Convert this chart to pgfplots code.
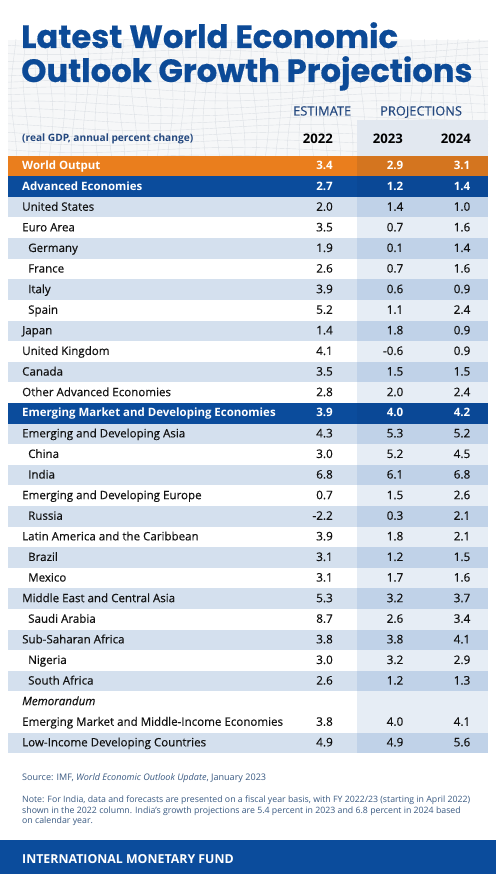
\documentclass[border=0pt]{standalone}
\usepackage{fontspec}
\setmainfont{Open Sans}
\newfontfamily\medfont{Open Sans}[FakeBold=0.35]
\newfontfamily\titlefont{Poppins}[BoldFeatures={FakeBold=0.5}]
\usepackage{pgfplots}
\usepackage{pgfplotstable}
\pgfplotsset{compat=1.18}

\definecolor{titleblue}{HTML}{0C4A97}
\definecolor{imfblue}{HTML}{0B4C9C}
\definecolor{imfblueR}{HTML}{0A4896}
\definecolor{orangeL}{HTML}{EA7E1D}
\definecolor{orangeR}{HTML}{D4751F}
\definecolor{shadeL}{HTML}{D4E0EE}
\definecolor{shadeR}{HTML}{C0D2E8}
\definecolor{projcol}{HTML}{E6EDF5}
\definecolor{projhead}{HTML}{E2E8F0}
\definecolor{meshbg}{HTML}{F6F7F8}
\definecolor{meshline}{HTML}{DCE0E5}
\definecolor{headtxt}{HTML}{24487F}
\definecolor{foottxt}{HTML}{3A5A82}
\definecolor{bodytxt}{HTML}{121212}

\pgfdeclareplotmark{bandL}{\pgfpathrectangle{\pgfpoint{-174.5bp}{-10.3bp}}{\pgfpoint{349bp}{20.6bp}}\pgfusepathqfill}
\pgfdeclareplotmark{bandR}{\pgfpathrectangle{\pgfpoint{-65.5bp}{-10.3bp}}{\pgfpoint{131bp}{20.6bp}}\pgfusepathqfill}

% rows: r = row number (1 = World Output), values for 2022, 2023, 2024
\pgfplotstableread[col sep=comma]{
r,name,a,b,c
1,World Output,3.4,2.9,3.1
2,Advanced Economies,2.7,1.2,1.4
13,Emerging Market and Developing Economies,3.9,4.0,4.2
}\headrows
\pgfplotstableread[col sep=comma]{
r,name,a,b,c
3,United States,2.0,1.4,1.0
4,Euro Area,3.5,0.7,1.6
9,Japan,1.4,1.8,0.9
10,United Kingdom,4.1,-0.6,0.9
11,Canada,3.5,1.5,1.5
12,Other Advanced Economies,2.8,2.0,2.4
14,Emerging and Developing Asia,4.3,5.3,5.2
17,Emerging and Developing Europe,0.7,1.5,2.6
19,Latin America and the Caribbean,3.9,1.8,2.1
22,Middle East and Central Asia,5.3,3.2,3.7
24,Sub-Saharan Africa,3.8,3.8,4.1
28,Emerging Market and Middle-Income Economies,3.8,4.0,4.1
29,Low-Income Developing Countries,4.9,4.9,5.6
}\toprows
\pgfplotstableread[col sep=comma]{
r,name,a,b,c
5,Germany,1.9,0.1,1.4
6,France,2.6,0.7,1.6
7,Italy,3.9,0.6,0.9
8,Spain,5.2,1.1,2.4
15,China,3.0,5.2,4.5
16,India,6.8,6.1,6.8
18,Russia,-2.2,0.3,2.1
20,Brazil,3.1,1.2,1.5
21,Mexico,3.1,1.7,1.6
23,Saudi Arabia,8.7,2.6,3.4
25,Nigeria,3.0,3.2,2.9
26,South Africa,2.6,1.2,1.3
}\subrows
\pgfplotstableread[col sep=comma]{
r,name,d
27,Memorandum,0
}\memorows
\pgfplotstableread{
r d
3 0
5 0
7 0
9 0
11 0
14 0
16 0
18 0
20 0
22 0
24 0
26 0
29 0
}\shadedrows
\pgfplotstableread{
r d
2 0
13 0
}\bluerows
\pgfplotstableread{
r d
1 0
}\orangerows

\begin{document}
\begin{tikzpicture}
% ---------- background decoration (page coordinates in px, y downwards)
\begin{scope}[yshift=874bp, x=1bp, y=-1bp]
  \fill[white] (0,0) rectangle (496,874);
  \fill[meshbg] (8,40) rectangle (488,156);
  \begin{scope}
    \clip (8,40) rectangle (488,156);
    \foreach \k in {0,...,16} {
      \draw[meshline, line width=0.4bp, domain=8:488, samples=40, smooth, variable=\t]
        plot (\t, {36+7.5*\k + 3*sin(1.1*\t + 25*\k) + 2*sin(0.45*\t)});
    }
    \foreach \k in {0,...,40} {
      \draw[meshline, line width=0.4bp, domain=36:160, samples=12, smooth, variable=\t]
        plot ({2+12*\k + 3*sin(2.5*\t + 40*\k)}, \t);
    }
  \end{scope}
  \fill[projhead] (357,120) rectangle (488,156);
  \fill[projcol] (357,156) rectangle (488,753.3);
  \fill[imfblue] (0,840) rectangle (496,874);
  % title
  \node[anchor=base west, inner sep=0pt, text=titleblue, font=\titlefont\bfseries\fontsize{32.3}{32}\selectfont] at (21,48) {Latest World Economic};
  \node[anchor=base west, inner sep=0pt, text=titleblue, font=\titlefont\bfseries\fontsize{32.3}{32}\selectfont] at (21,82) {Outlook Growth Projections};
  % column headers
  \node[anchor=base west, inner sep=0pt, text=headtxt, font=\medfont\fontsize{12.9}{13}\selectfont] at (293,115.5) {ESTIMATE};
  \node[anchor=base west, inner sep=0pt, text=headtxt, font=\medfont\fontsize{12.9}{13}\selectfont] at (380,115.5) {PROJECTIONS};
  \node[anchor=base west, inner sep=0pt, text=headtxt, font=\bfseries\fontsize{10.2}{11}\selectfont] at (22,141.5) {(real GDP, annual percent change)};
  \node[anchor=base east, inner sep=0pt, text=black, font=\bfseries\fontsize{13.2}{13}\selectfont] at (333,144) {2022};
  \node[anchor=base east, inner sep=0pt, text=black, font=\bfseries\fontsize{13.2}{13}\selectfont] at (403,144) {2023};
  \node[anchor=base east, inner sep=0pt, text=black, font=\bfseries\fontsize{13.2}{13}\selectfont] at (471,144) {2024};
  % footer
  \node[anchor=base west, inner sep=0pt, text=foottxt, font=\fontsize{9.1}{10}\selectfont] at (22,781) {Source: IMF, \textit{World Economic Outlook Update}, January 2023};
  \node[anchor=base west, inner sep=0pt, text=foottxt, font=\fontsize{8.8}{10}\selectfont] at (22,803) {Note: For India, data and forecasts are presented on a fiscal year basis, with FY 2022/23 (starting in April 2022)};
  \node[anchor=base west, inner sep=0pt, text=foottxt, font=\fontsize{8.8}{10}\selectfont] at (22,813.3) {shown in the 2022 column. India’s growth projections are 5.4 percent in 2023 and 6.8 percent in 2024 based};
  \node[anchor=base west, inner sep=0pt, text=foottxt, font=\fontsize{8.8}{10}\selectfont] at (22,823.6) {on calendar year.};
  \node[anchor=base west, inner sep=0pt, text=white, font=\bfseries\fontsize{12.4}{13}\selectfont] at (22,864) {INTERNATIONAL MONETARY FUND};
\end{scope}

% ---------- the table drawn through a pgfplots axis (1 unit = 1 px)
\begin{axis}[
  at={(0,0)}, anchor=south west,
  width=496bp, height=874bp, scale only axis,
  xmin=0, xmax=496, ymin=0, ymax=874, y dir=reverse,
  hide axis, clip=false,
  lab/.style={draw=none, mark=none, nodes near coords, point meta=explicit symbolic,
    nodes near coords style={anchor=west, inner sep=0pt, text height=0.714em, text depth=0pt, #1}},
  num/.style={draw=none, mark=none, nodes near coords, point meta=explicit symbolic,
    nodes near coords style={anchor=east, inner sep=0pt, text height=0.714em, text depth=0pt, #1}},
]
% row bands
\addplot[only marks, mark=bandL, color=shadeL] table[x expr=182.5, y expr=145.4+20.6*\thisrow{r}] {\shadedrows};
\addplot[only marks, mark=bandR, color=shadeR] table[x expr=422.5, y expr=145.4+20.6*\thisrow{r}] {\shadedrows};
\addplot[only marks, mark=bandL, color=imfblue] table[x expr=182.5, y expr=145.4+20.6*\thisrow{r}] {\bluerows};
\addplot[only marks, mark=bandR, color=imfblueR] table[x expr=422.5, y expr=145.4+20.6*\thisrow{r}] {\bluerows};
\addplot[only marks, mark=bandL, color=orangeL] table[x expr=182.5, y expr=145.4+20.6*\thisrow{r}] {\orangerows};
\addplot[only marks, mark=bandR, color=orangeR] table[x expr=422.5, y expr=145.4+20.6*\thisrow{r}] {\orangerows};

% names
\addplot[lab={text=white, font=\bfseries\fontsize{11.5}{12}\selectfont}] table[x expr=22, y expr=145.4+20.6*\thisrow{r}, meta=name] {\headrows};
\addplot[lab={text=bodytxt, font=\medfont\fontsize{11.6}{12}\selectfont}] table[x expr=22, y expr=145.4+20.6*\thisrow{r}, meta=name] {\toprows};
\addplot[lab={text=bodytxt, font=\medfont\fontsize{11.6}{12}\selectfont}] table[x expr=28, y expr=145.4+20.6*\thisrow{r}, meta=name] {\subrows};
\addplot[lab={text=bodytxt, font=\medfont\itshape\fontsize{11.6}{12}\selectfont}] table[x expr=22, y expr=145.4+20.6*\thisrow{r}, meta=name] {\memorows};

% values
\addplot[num={text=white, font=\bfseries\fontsize{11.6}{12}\selectfont}] table[x expr=333, y expr=145.4+20.6*\thisrow{r}, meta=a] {\headrows};
\addplot[num={text=white, font=\bfseries\fontsize{11.6}{12}\selectfont}] table[x expr=403.5, y expr=145.4+20.6*\thisrow{r}, meta=b] {\headrows};
\addplot[num={text=white, font=\bfseries\fontsize{11.6}{12}\selectfont}] table[x expr=470.5, y expr=145.4+20.6*\thisrow{r}, meta=c] {\headrows};
\addplot[num={text=bodytxt, font=\medfont\fontsize{11.8}{12}\selectfont}] table[x expr=333, y expr=145.4+20.6*\thisrow{r}, meta=a] {\toprows};
\addplot[num={text=bodytxt, font=\medfont\fontsize{11.8}{12}\selectfont}] table[x expr=403.5, y expr=145.4+20.6*\thisrow{r}, meta=b] {\toprows};
\addplot[num={text=bodytxt, font=\medfont\fontsize{11.8}{12}\selectfont}] table[x expr=470.5, y expr=145.4+20.6*\thisrow{r}, meta=c] {\toprows};
\addplot[num={text=bodytxt, font=\medfont\fontsize{11.8}{12}\selectfont}] table[x expr=333, y expr=145.4+20.6*\thisrow{r}, meta=a] {\subrows};
\addplot[num={text=bodytxt, font=\medfont\fontsize{11.8}{12}\selectfont}] table[x expr=403.5, y expr=145.4+20.6*\thisrow{r}, meta=b] {\subrows};
\addplot[num={text=bodytxt, font=\medfont\fontsize{11.8}{12}\selectfont}] table[x expr=470.5, y expr=145.4+20.6*\thisrow{r}, meta=c] {\subrows};
\end{axis}
\pgfresetboundingbox
\path (0,0) rectangle (496bp,874bp);
\end{tikzpicture}
\end{document}
